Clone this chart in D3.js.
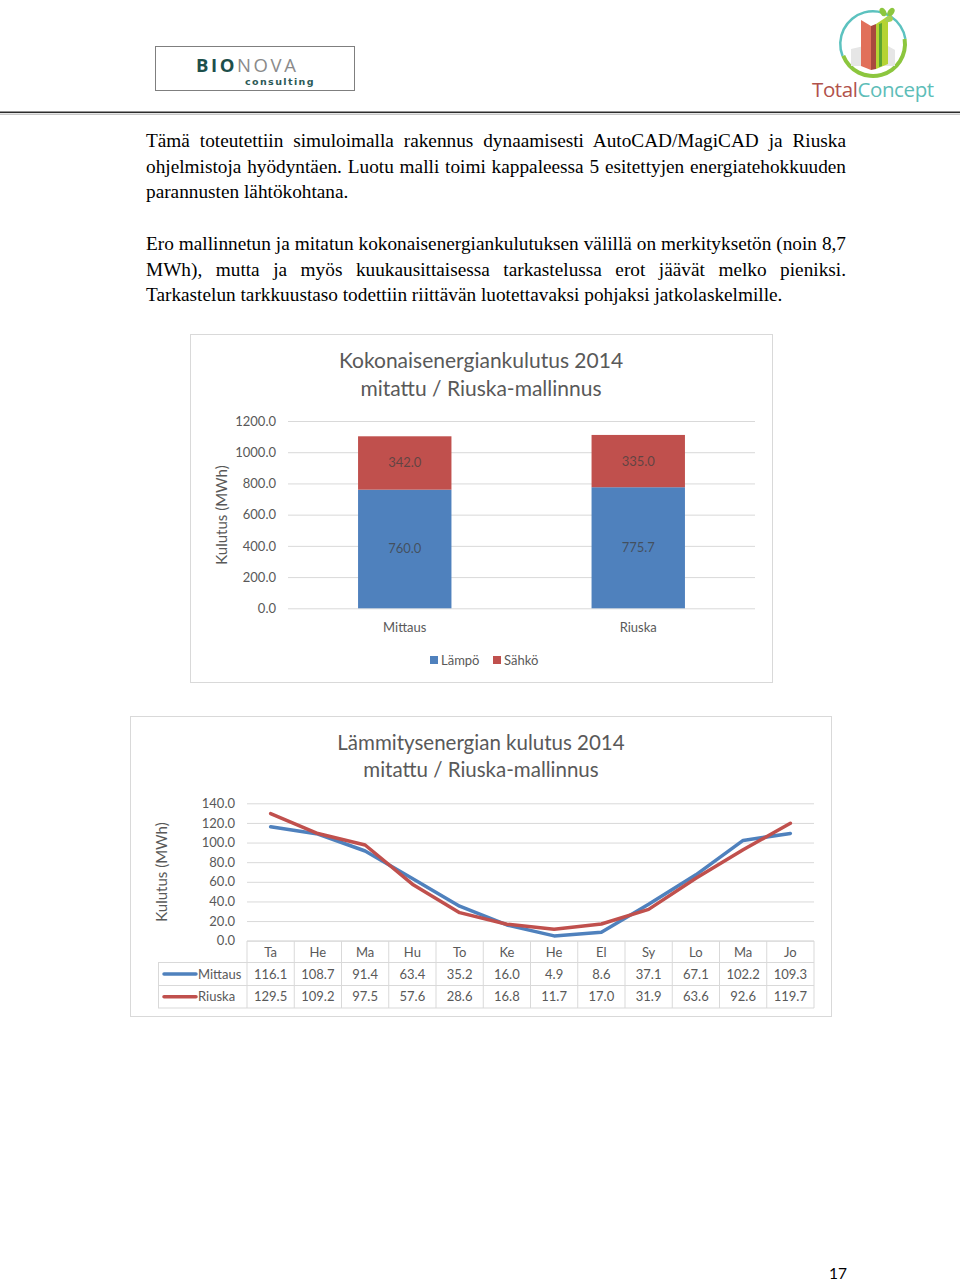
<!DOCTYPE html>
<html>
<head>
<meta charset="utf-8">
<script src="https://cdn.jsdelivr.net/npm/d3@7"></script>
<style>
  html, body { margin:0; padding:0; background:#fff; }
  body { width:960px; height:1283px; position:relative; overflow:hidden; }
  svg { position:absolute; left:0; top:0; }
  .para { position:absolute; left:146px; width:700px; font-family:"Liberation Serif","Times New Roman",serif;
          font-size:19.3px; line-height:25.6px; color:#000; text-align:justify; }
</style>
</head>
<body>
<svg id="page" width="960" height="1283"></svg>
<div class="para" style="top:128px;">Tämä toteutettiin simuloimalla rakennus dynaamisesti AutoCAD/MagiCAD ja Riuska ohjelmistoja hyödyntäen. Luotu malli toimi kappaleessa 5 esitettyjen energiatehokkuuden parannusten lähtökohtana.</div>
<div class="para" style="top:231px;">Ero mallinnetun ja mitatun kokonaisenergiankulutuksen välillä on merkityksetön (noin 8,7 MWh), mutta ja myös kuukausittaisessa tarkastelussa erot jäävät melko pieniksi. Tarkastelun tarkkuustaso todettiin riittävän luotettavaksi pohjaksi jatkolaskelmille.</div>
<script>
// ---------- DATA ----------
const barCategories = ["Mittaus", "Riuska"];
const lampo = [760.0, 775.7];
const sahko = [342.0, 335.0];
const barSeriesNames = ["Lämpö", "Sähkö"];
const barTicks = [0, 200, 400, 600, 800, 1000, 1200];

const months = ["Ta", "He", "Ma", "Hu", "To", "Ke", "He", "El", "Sy", "Lo", "Ma", "Jo"];
const mittaus = [116.1, 108.7, 91.4, 63.4, 35.2, 16.0, 4.9, 8.6, 37.1, 67.1, 102.2, 109.3];
const riuska = [129.5, 109.2, 97.5, 57.6, 28.6, 16.8, 11.7, 17.0, 31.9, 63.6, 92.6, 119.7];
const lineSeriesNames = ["Mittaus", "Riuska"];
const lineTicks = [0, 20, 40, 60, 80, 100, 120, 140];

// ---------- STYLE ----------
const FONT = "Lato, 'Open Sans', sans-serif";
const GREY = "#595959";
const BLUE = "#4f81bd", RED = "#c0504d";
const GRID = "#d9d9d9";
const fmt = d3.format(".1f");

const svg = d3.select("#page");

// ---------- HEADER ----------
const hdr = svg.append("g");
hdr.append("rect").attr("x", 155.5).attr("y", 46.5).attr("width", 199).attr("height", 44)
  .attr("fill", "#fff").attr("stroke", "#7f7f7f").attr("stroke-width", 1);
const bio = hdr.append("text").attr("x", 196).attr("y", 72).attr("font-family", "'Open Sans', sans-serif")
  .attr("font-size", 18.5).attr("letter-spacing", 2.6).attr("font-weight", 700);
bio.append("tspan").attr("fill", "#1d4f4b").text("BIO");
bio.append("tspan").attr("fill", "#8a8a8a").attr("font-weight", 400).text("NOVA");
hdr.append("text").attr("x", 245).attr("y", 85).attr("font-family", "'DejaVu Sans', sans-serif")
  .attr("font-size", 9.5).attr("letter-spacing", 1.4).attr("font-weight", 700).attr("fill", "#2c5a57").text("consulting");

// TotalConcept logo
const lg = hdr.append("g");
const cx = 873, cy = 44, r = 34;
lg.append("path").attr("d", d3.arc()({innerRadius: r - 2.5, outerRadius: r, startAngle: -Math.PI * 0.62, endAngle: Math.PI * 0.45}))
  .attr("transform", `translate(${cx},${cy})`).attr("fill", "#5cc2bf");
lg.append("path").attr("d", d3.arc()({innerRadius: r - 4, outerRadius: r, startAngle: Math.PI * 0.45, endAngle: Math.PI * 1.38}))
  .attr("transform", `translate(${cx},${cy})`).attr("fill", "#8cc63e");
lg.append("path").attr("d", `M${cx-22},${cy+5} L${cx+8},${cy-2} L${cx+22},${cy+6} L${cx+22},${cy+22} L${cx-22},${cy+22} Z`).attr("fill", "#e6e6e6");
lg.append("path").attr("d", `M${cx-12},${cy-24} L${cx-2},${cy-18} L${cx-2},${cy+26} L${cx-12},${cy+22} Z`).attr("fill", "#e1705a");
lg.append("path").attr("d", `M${cx-2},${cy-18} L${cx+3},${cy-20} L${cx+3},${cy+25} L${cx-2},${cy+26} Z`).attr("fill", "#a8483e");
lg.append("path").attr("d", `M${cx+3},${cy-20} L${cx+15},${cy-28} L${cx+15},${cy+20} L${cx+3},${cy+25} Z`).attr("fill", "#b5d334");
lg.append("path").attr("d", `M${cx+6},${cy-20} L${cx+9},${cy-21} L${cx+9},${cy+22} L${cx+6},${cy+23} Z`).attr("fill", "#5aa532");
lg.append("ellipse").attr("cx", cx + 10).attr("cy", cy - 32).attr("rx", 3).attr("ry", 4.5).attr("transform", `rotate(-30,${cx+10},${cy-32})`).attr("fill", "#8cc63e");
lg.append("ellipse").attr("cx", cx + 18).attr("cy", cy - 32).attr("rx", 3).attr("ry", 4.5).attr("transform", `rotate(35,${cx+18},${cy-32})`).attr("fill", "#8cc63e");
lg.append("ellipse").attr("cx", cx + 16).attr("cy", cy - 25).attr("rx", 3).attr("ry", 4).attr("transform", `rotate(70,${cx+16},${cy-25})`).attr("fill", "#a5cf52");
const tc = hdr.append("text").attr("x", 812).attr("y", 97).attr("font-family", "'Open Sans', sans-serif")
  .attr("font-size", 20.5).attr("letter-spacing", -0.4);
tc.append("tspan").attr("fill", "#b1524b").text("Total");
tc.append("tspan").attr("fill", "#5dbdb8").text("Concept");

hdr.append("line").attr("x1", 0).attr("x2", 960).attr("y1", 112.3).attr("y2", 112.3).attr("stroke", "#2b2b2b").attr("stroke-width", 1.6);
hdr.append("line").attr("x1", 0).attr("x2", 960).attr("y1", 114.2).attr("y2", 114.2).attr("stroke", "#9a9a9a").attr("stroke-width", 0.8);

// ---------- CHART 1: stacked bars ----------
{
  const g = svg.append("g");
  g.append("rect").attr("x", 190.5).attr("y", 334.5).attr("width", 582).attr("height", 348)
    .attr("fill", "#fff").attr("stroke", GRID).attr("stroke-width", 1);
  const x = d3.scaleBand().domain(barCategories).range([288, 755]).paddingInner(0.6).paddingOuter(0.3);
  const y = d3.scaleLinear().domain([0, 1200]).range([608.3, 421]);

  g.append("g").attr("transform", "translate(288,0)")
    .call(d3.axisLeft(y).tickValues(barTicks).tickSize(-467).tickFormat(""))
    .call(a => a.select(".domain").remove())
    .call(a => a.selectAll("line").attr("stroke", GRID).attr("stroke-width", 1));
  g.append("g").attr("transform", "translate(276,0)")
    .call(d3.axisLeft(y).tickValues(barTicks).tickSize(0).tickPadding(0).tickFormat(fmt))
    .call(a => a.select(".domain").remove())
    .call(a => a.selectAll("text").attr("fill", GREY).attr("font-family", FONT).attr("font-size", 13));

  const stack = d3.stack().keys([0, 1])(barCategories.map((c, i) => ({0: lampo[i], 1: sahko[i], cat: c})));
  const colors = [BLUE, RED];
  stack.forEach((layer, k) => {
    g.selectAll(null).data(layer).join("rect")
      .attr("x", d => x(d.data.cat)).attr("width", x.bandwidth())
      .attr("y", d => y(d[1])).attr("height", d => y(d[0]) - y(d[1]))
      .attr("fill", colors[k]);
    g.selectAll(null).data(layer).join("text")
      .attr("x", d => x(d.data.cat) + x.bandwidth() / 2).attr("y", d => (y(d[0]) + y(d[1])) / 2 + 4.5)
      .attr("text-anchor", "middle").attr("font-family", FONT).attr("font-size", 13)
      .attr("fill", "#404040").attr("fill-opacity", 0.75)
      .text(d => fmt(d[1] - d[0]));
  });

  g.selectAll(null).data(barCategories).join("text")
    .attr("x", d => x(d) + x.bandwidth() / 2).attr("y", 632)
    .attr("text-anchor", "middle").attr("font-family", FONT).attr("font-size", 13).attr("fill", GREY).text(d => d);

  g.append("text").attr("transform", "translate(227,515) rotate(-90)").attr("text-anchor", "middle")
    .attr("font-family", FONT).attr("font-size", 15).attr("fill", GREY).text("Kulutus (MWh)");

  const t = g.append("text").attr("text-anchor", "middle").attr("font-family", FONT).attr("font-size", 21).attr("fill", GREY);
  t.append("tspan").attr("x", 481).attr("y", 368).text("Kokonaisenergiankulutus 2014");
  t.append("tspan").attr("x", 481).attr("y", 396).text("mitattu / Riuska-mallinnus");

  // legend
  const legX = [430, 493];
  barSeriesNames.forEach((n, i) => {
    g.append("rect").attr("x", legX[i]).attr("y", 656).attr("width", 8).attr("height", 8).attr("fill", colors[i]);
    g.append("text").attr("x", legX[i] + 11).attr("y", 664.5).attr("font-family", FONT).attr("font-size", 13)
      .attr("fill", GREY).text(n);
  });
}

// ---------- CHART 2: lines + data table ----------
{
  const g = svg.append("g");
  g.append("rect").attr("x", 130.5).attr("y", 716.5).attr("width", 701).attr("height", 300)
    .attr("fill", "#fff").attr("stroke", GRID).attr("stroke-width", 1);
  const left = 247, right = 814;
  const x = d3.scaleBand().domain(d3.range(months.length)).range([left, right]);
  const y = d3.scaleLinear().domain([0, 140]).range([940.7, 803.3]);

  g.append("g").attr("transform", `translate(${left},0)`)
    .call(d3.axisLeft(y).tickValues(lineTicks).tickSize(-(right - left)).tickFormat(""))
    .call(a => a.select(".domain").remove())
    .call(a => a.selectAll("line").attr("stroke", GRID).attr("stroke-width", 1));
  g.append("g").attr("transform", "translate(235,0)")
    .call(d3.axisLeft(y).tickValues(lineTicks).tickSize(0).tickPadding(0).tickFormat(fmt))
    .call(a => a.select(".domain").remove())
    .call(a => a.selectAll("text").attr("fill", GREY).attr("font-family", FONT).attr("font-size", 13));

  const series = [mittaus, riuska];
  const colors = [BLUE, RED];
  const line = d3.line().x((d, i) => x(i) + x.bandwidth() / 2).y(d => y(d));
  series.forEach((s, k) => {
    g.append("path").datum(s).attr("d", line).attr("fill", "none").attr("stroke", colors[k])
      .attr("stroke-width", 3.5).attr("stroke-linejoin", "round").attr("stroke-linecap", "round");
  });

  // data table
  const rowTop = [941, 962.5, 985.5, 1008];
  const tg = g.append("g").attr("stroke", GRID).attr("stroke-width", 1).attr("fill", "none");
  tg.append("line").attr("x1", left).attr("x2", right).attr("y1", rowTop[0]).attr("y2", rowTop[0]);
  [1, 2, 3].forEach(r => tg.append("line").attr("x1", 158).attr("x2", right).attr("y1", rowTop[r]).attr("y2", rowTop[r]));
  tg.append("line").attr("x1", 158.5).attr("x2", 158.5).attr("y1", rowTop[1]).attr("y2", rowTop[3]);
  d3.range(months.length + 1).forEach(i => {
    const xx = i < months.length ? x(i) : right;
    tg.append("line").attr("x1", xx).attr("x2", xx).attr("y1", rowTop[0]).attr("y2", rowTop[3]);
  });

  g.selectAll(null).data(months).join("text")
    .attr("x", (d, i) => x(i) + x.bandwidth() / 2).attr("y", 956.5)
    .attr("text-anchor", "middle").attr("font-family", FONT).attr("font-size", 13).attr("fill", GREY).text(d => d);
  series.forEach((s, k) => {
    const ty = (rowTop[k + 1] + rowTop[k + 2]) / 2 + 4.5;
    g.selectAll(null).data(s).join("text")
      .attr("x", (d, i) => x(i) + x.bandwidth() / 2).attr("y", ty)
      .attr("text-anchor", "middle").attr("font-family", FONT).attr("font-size", 13).attr("fill", GREY).text(d => fmt(d));
    g.append("line").attr("x1", 164).attr("x2", 196).attr("y1", ty - 4.5).attr("y2", ty - 4.5)
      .attr("stroke", colors[k]).attr("stroke-width", 3.5).attr("stroke-linecap", "round");
    g.append("text").attr("x", 198).attr("y", ty).attr("font-family", FONT).attr("font-size", 13)
      .attr("fill", GREY).text(lineSeriesNames[k]);
  });

  g.append("text").attr("transform", "translate(167,872) rotate(-90)").attr("text-anchor", "middle")
    .attr("font-family", FONT).attr("font-size", 15).attr("fill", GREY).text("Kulutus (MWh)");

  const t = g.append("text").attr("text-anchor", "middle").attr("font-family", FONT).attr("font-size", 20.5).attr("fill", GREY);
  t.append("tspan").attr("x", 481).attr("y", 750).text("Lämmitysenergian kulutus 2014");
  t.append("tspan").attr("x", 481).attr("y", 777).text("mitattu / Riuska-mallinnus");
}

// page number
svg.append("text").attr("x", 829).attr("y", 1279).attr("font-family", FONT).attr("font-size", 15.5).attr("fill", "#000").text("17");
</script>
</body>
</html>
